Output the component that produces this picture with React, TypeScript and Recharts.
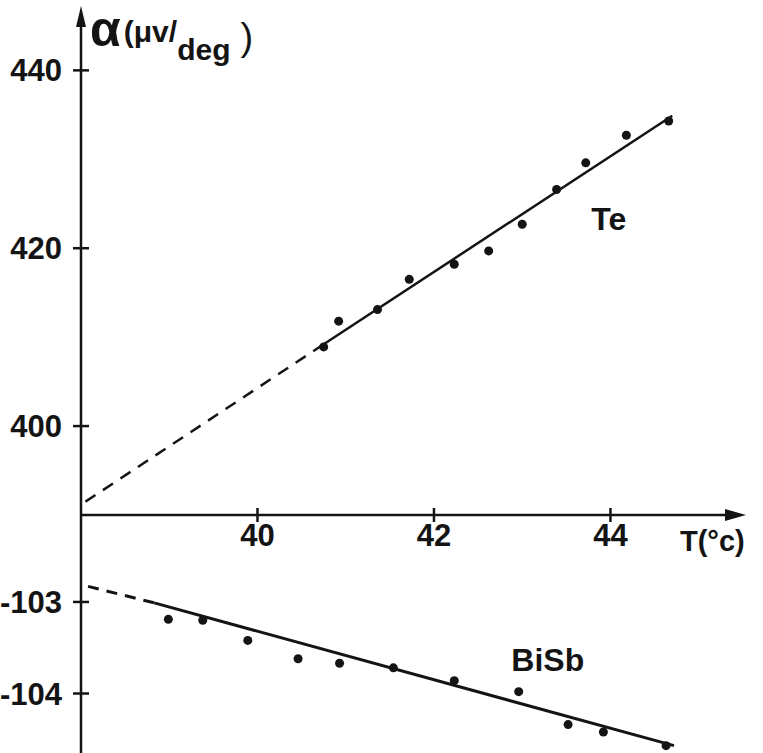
import { ScatterChart, Scatter, XAxis, YAxis, ReferenceDot } from 'recharts';

// Te: alpha (uV/deg) vs T (C)
const teT = [40.75, 40.92, 41.36, 41.72, 42.23, 42.62, 43.0, 43.39, 43.72, 44.18, 44.66];
const teAlpha = [408.9, 411.8, 413.1, 416.5, 418.2, 419.7, 422.7, 426.6, 429.6, 432.7, 434.3];
const teFitDashT = [38.05, 40.75];
const teFitDashA = [391.5, 409.2];
const teFitT = [40.75, 44.7];
const teFitA = [409.2, 434.9];

// BiSb
const bisbT = [38.99, 39.38, 39.89, 40.46, 40.93, 41.54, 42.23, 42.96, 43.52, 43.92, 44.63];
const bisbAlpha = [-103.19, -103.2, -103.42, -103.62, -103.67, -103.72, -103.86, -103.98, -104.34, -104.42, -104.57];
const bisbFitDashT = [38.08, 38.83];
const bisbFitDashA = [-102.83, -103.01];
const bisbFitT = [38.83, 44.72];
const bisbFitA = [-103.01, -104.57];

const xTicks = [40, 42, 44];
const teTicks = [400, 420, 440];
const bisbTicks = [-103, -104];

const pts = (xs: number[], ys: number[]) => xs.map((x, i) => ({ x, y: ys[i] }));

const FONT = '"Liberation Sans", Arial, sans-serif';
const INK = '#141414';
const X_DOMAIN = [38, 45.4];
const TE_DOMAIN = [390, 446];
const W = 763;
const RIGHT = 29;
const LEFT_W = 81;

const YTick = (props: any) => {
  const { x, y, payload } = props;
  const ax = x + 12;
  return (
    <g>
      <line x1={ax - 8} x2={ax + 8} y1={y} y2={y} stroke={INK} strokeWidth={2.5} />
      <text x={ax - 19} y={y + 11} textAnchor="end" fontFamily={FONT} fontWeight="bold" fontSize={31} fill={INK}>
        {payload.value}
      </text>
    </g>
  );
};

const XTick = (props: any) => {
  const { x, y, payload } = props;
  const ay = y - 6;
  return (
    <g>
      <line x1={x} x2={x} y1={ay - 7} y2={ay + 7} stroke={INK} strokeWidth={2.5} />
      <text x={x} y={ay + 31} textAnchor="middle" fontFamily={FONT} fontWeight="bold" fontSize={31} fill={INK}>
        {payload.value}
      </text>
    </g>
  );
};

const YTitle = () => (
  <text x={90} y={46} fontFamily={FONT} fontWeight="bold" fontSize={30} fill={INK}>
    <tspan fontSize={50}>α</tspan>
    <tspan dx={3} dy={-4}>(μv/</tspan>
    <tspan dy={18}>deg</tspan>
    <tspan dx={10} dy={-10} fontSize={38} fontWeight="normal">)</tspan>
  </text>
);

const XTitle = () => (
  <text x={680} y={551} fontFamily={FONT} fontWeight="bold" fontSize={29} fill={INK}>
    T(°c)
  </text>
);

// axis arrow heads, placed at the ends of the axis domains
const arrowX = [{ x: X_DOMAIN[1], y: TE_DOMAIN[0] }];
const arrowY = [{ x: X_DOMAIN[0], y: TE_DOMAIN[1] }];
const rightHead = (p: any) => (
  <path d={`M${p.cx - 9},${p.cy - 6} L${p.cx + 12},${p.cy} L${p.cx - 9},${p.cy + 6} z`} fill={INK} />
);
const upHead = (p: any) => (
  <path d={`M${p.cx - 5},${p.cy + 10} L${p.cx},${p.cy - 11} L${p.cx + 5},${p.cy + 10} z`} fill={INK} />
);

const hidden = () => <g />;
const dot = (p: any) => <circle cx={p.cx} cy={p.cy} r={4.5} fill={INK} />;

export default function App() {
  return (
    <div style={{ position: 'absolute', left: 0, top: 0, width: W, height: 753, background: '#fff' }}>
      <div style={{ position: 'absolute', left: 0, top: 515 }}>
        <ScatterChart width={W} height={238} margin={{ top: 0, right: RIGHT, bottom: 0, left: 0 }}>
          <XAxis type="number" dataKey="x" domain={X_DOMAIN} hide />
          <YAxis
            type="number"
            dataKey="y"
            domain={[-104.65, -102.05]}
            ticks={bisbTicks}
            width={LEFT_W}
            tickSize={8}
            tickMargin={4}
            tickLine={false}
            tick={YTick}
            axisLine={{ stroke: INK, strokeWidth: 2.5 }}
          />
          <Scatter data={pts(bisbFitDashT, bisbFitDashA)} line={{ stroke: INK, strokeWidth: 3, strokeDasharray: '11 8' }} shape={hidden} isAnimationActive={false} />
          <Scatter data={pts(bisbFitT, bisbFitA)} line={{ stroke: INK, strokeWidth: 3 }} shape={hidden} isAnimationActive={false} />
          <Scatter data={pts(bisbT, bisbAlpha)} shape={dot} isAnimationActive={false} />
          <ReferenceDot
            x={43.29}
            y={-103.63}
            r={0}
            fill="none"
            stroke="none"
            ifOverflow="visible"
            label={{ value: 'BiSb', position: 'center', fontFamily: FONT, fontWeight: 'bold', fontSize: 32, fill: INK }}
          />
        </ScatterChart>
      </div>
      <div style={{ position: 'absolute', left: 0, top: 0 }}>
        <ScatterChart width={W} height={575} margin={{ top: 17, right: RIGHT, bottom: 0, left: 0 }}>
          <XAxis
            type="number"
            dataKey="x"
            domain={X_DOMAIN}
            ticks={xTicks}
            height={60}
            tickSize={6}
            tickMargin={0}
            tickLine={false}
            tick={XTick}
            axisLine={{ stroke: INK, strokeWidth: 2.5 }}
            label={{ content: XTitle }}
          />
          <YAxis
            type="number"
            dataKey="y"
            domain={TE_DOMAIN}
            ticks={teTicks}
            width={LEFT_W}
            tickSize={8}
            tickMargin={4}
            tickLine={false}
            tick={YTick}
            axisLine={{ stroke: INK, strokeWidth: 2.5 }}
            label={{ content: YTitle }}
          />
          <Scatter data={pts(teFitDashT, teFitDashA)} line={{ stroke: INK, strokeWidth: 2.5, strokeDasharray: '12 9' }} shape={hidden} isAnimationActive={false} />
          <Scatter data={pts(teFitT, teFitA)} line={{ stroke: INK, strokeWidth: 2.5 }} shape={hidden} isAnimationActive={false} />
          <Scatter data={pts(teT, teAlpha)} shape={dot} isAnimationActive={false} />
          <Scatter data={arrowX} shape={rightHead} isAnimationActive={false} />
          <Scatter data={arrowY} shape={upHead} isAnimationActive={false} />
          <ReferenceDot
            x={43.98}
            y={423.3}
            r={0}
            fill="none"
            stroke="none"
            ifOverflow="visible"
            label={{ value: 'Te', position: 'center', fontFamily: FONT, fontWeight: 'bold', fontSize: 32, fill: INK }}
          />
        </ScatterChart>
      </div>
    </div>
  );
}
